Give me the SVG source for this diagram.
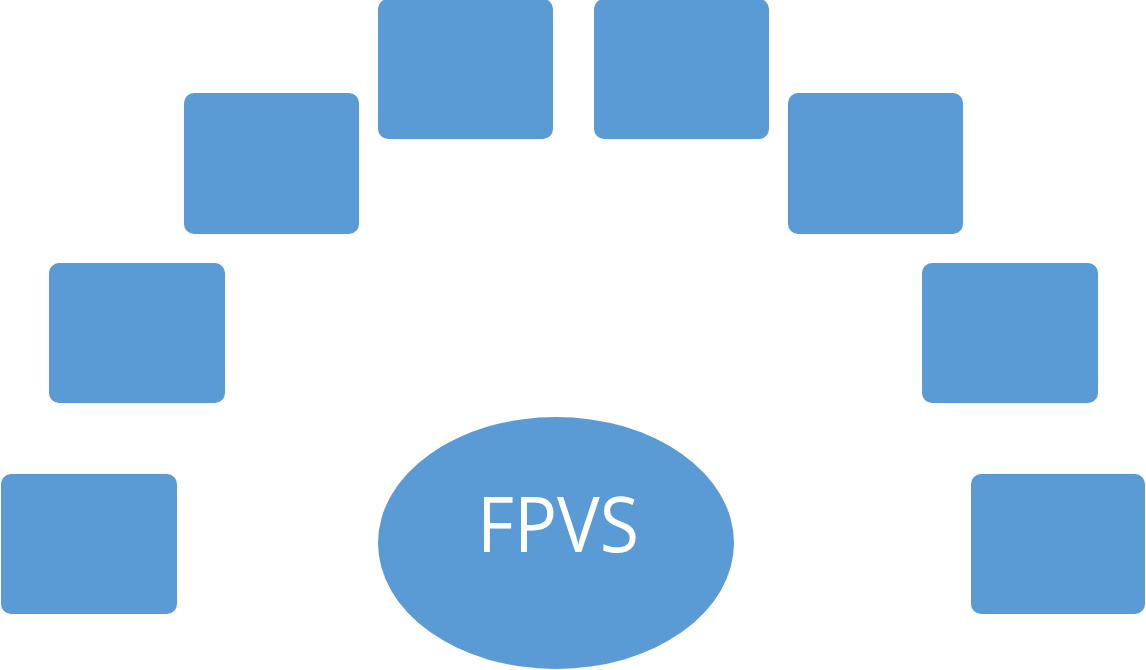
<svg xmlns="http://www.w3.org/2000/svg" width="1146" height="670" viewBox="0 0 1146 670">
  <style>
    .box { fill: #5B9BD5; }
    .hub { fill: #5B9BD5; }
    .label { fill: #FFFFFF; font-family: "Open Sans", "Liberation Sans", sans-serif; font-size: 76px; text-anchor: middle; }
  </style>
  <rect width="1146" height="670" fill="#FFFFFF"/>
  <g id="connectors"></g>
  <g id="box-1"><rect class="box" x="1" y="474" width="176" height="140" rx="10"/></g>
  <g id="box-2"><rect class="box" x="49" y="263" width="176" height="140" rx="10"/></g>
  <g id="box-3"><rect class="box" x="184" y="93" width="175" height="141" rx="10"/></g>
  <g id="box-4"><rect class="box" x="378" y="-1" width="175" height="140" rx="10"/></g>
  <g id="box-5"><rect class="box" x="594" y="-1" width="175" height="140" rx="10"/></g>
  <g id="box-6"><rect class="box" x="788" y="93" width="175" height="141" rx="10"/></g>
  <g id="box-7"><rect class="box" x="922" y="263" width="176" height="140" rx="10"/></g>
  <g id="box-8"><rect class="box" x="971" y="474" width="174" height="140" rx="10"/></g>
  <g id="hub">
    <ellipse class="hub" cx="556" cy="543" rx="178" ry="126"/>
    <text class="label" x="558" y="552" textLength="162" lengthAdjust="spacingAndGlyphs">FPVS</text>
  </g>
</svg>
